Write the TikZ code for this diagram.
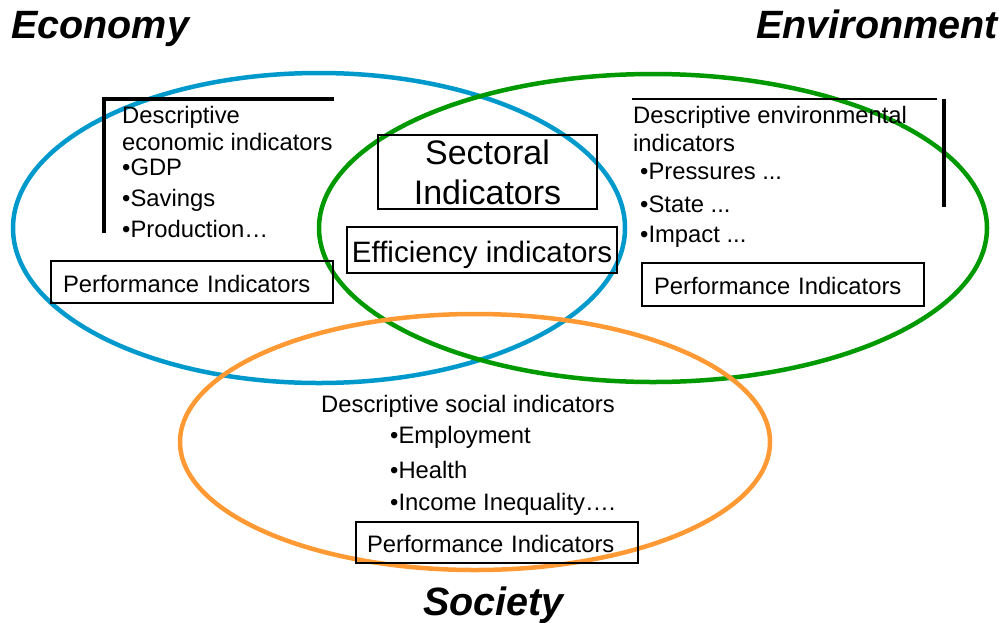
\documentclass[tikz,border=0pt]{standalone}
\usepackage{fontspec}
\setmainfont{Liberation Sans}
\definecolor{econblue}{HTML}{0099CC}
\definecolor{envgreen}{HTML}{009900}
\definecolor{socorange}{HTML}{FF9933}
\begin{document}
\begin{tikzpicture}[x=1pt,y=-1pt,
  ring/.style={line width=4.5pt},
  pbox/.style={draw=black, line width=1.4pt, font=\fontsize{23.8}{28}\selectfont,
    inner xsep=12pt, inner ysep=0pt, minimum height=42pt, text width=258pt, align=left,
    text height=20pt, text depth=0pt},
  txt/.style={anchor=base west, inner sep=0pt, font=\fontsize{23.8}{28}\selectfont},
  titletxt/.style={anchor=base west, inner sep=0pt, font=\fontsize{39.5}{44}\selectfont\bfseries\itshape},
  bar/.style={line width=4pt, line cap=butt}
]
\useasboundingbox (0,0) rectangle (1006,622);

% circles
\draw[ring, econblue] (319,228) ellipse [x radius=306pt, y radius=155pt];
\draw[ring, envgreen] (653,228) ellipse [x radius=334pt, y radius=154pt];
\draw[ring, socorange] (475,442) ellipse [x radius=295pt, y radius=128pt];

% titles
\node[titletxt] (economy) at (11,38) {Economy};
\node[titletxt] (environment) at (756,38) {Environment};
\node[titletxt] (society) at (423,615) {Society};

% economic block
\draw[bar] (334,99) -- (104,99) -- (104,233);
\node[txt] (e1) at (122,123) {Descriptive};
\node[txt] (e2) at (122,150) {economic indicators};
\node[txt] (e3) at (122,175) {•GDP};
\node[txt] (e4) at (122,206) {•Savings};
\node[txt] (e5) at (122,237) {•Production…};
\node[pbox] (eperf) at (192,282) {Performance Indicators};

% environmental block
\draw[line width=2.5pt] (632,99) -- (937,99);
\draw[bar] (944,99) -- (944,207);
\node[txt] (v1) at (633,123) {Descriptive environmental};
\node[txt] (v2) at (633,151) {indicators};
\node[txt] (v3) at (640,179) {•Pressures ...};
\node[txt] (v4) at (640,212) {•State ...};
\node[txt] (v5) at (640,242) {•Impact ...};
\node[pbox, minimum height=43pt] (vperf) at (783,284.5) {Performance Indicators};

% center
\node[draw=black, line width=1.4pt, minimum width=219pt, minimum height=74pt, inner sep=0pt,
  align=center, font=\fontsize{34}{40}\selectfont] (sect) at (487.5,172) {Sectoral\\Indicators};
\node[draw=black, line width=1.4pt, minimum width=270pt, minimum height=46pt, inner sep=0pt,
  text height=24pt, text depth=0pt,
  font=\fontsize{29.5}{34}\selectfont] (eff) at (482,250) {Efficiency indicators};

% social block
\node[txt] (s1) at (321,412) {Descriptive social indicators};
\node[txt] (s2) at (390,443) {•Employment};
\node[txt] (s3) at (390,478) {•Health};
\node[txt] (s4) at (390,510) {•Income Inequality….};
\node[pbox, minimum height=41pt, inner xsep=11pt, text width=260pt] (sperf) at (497,542.5) {Performance Indicators};
\end{tikzpicture}
\end{document}
